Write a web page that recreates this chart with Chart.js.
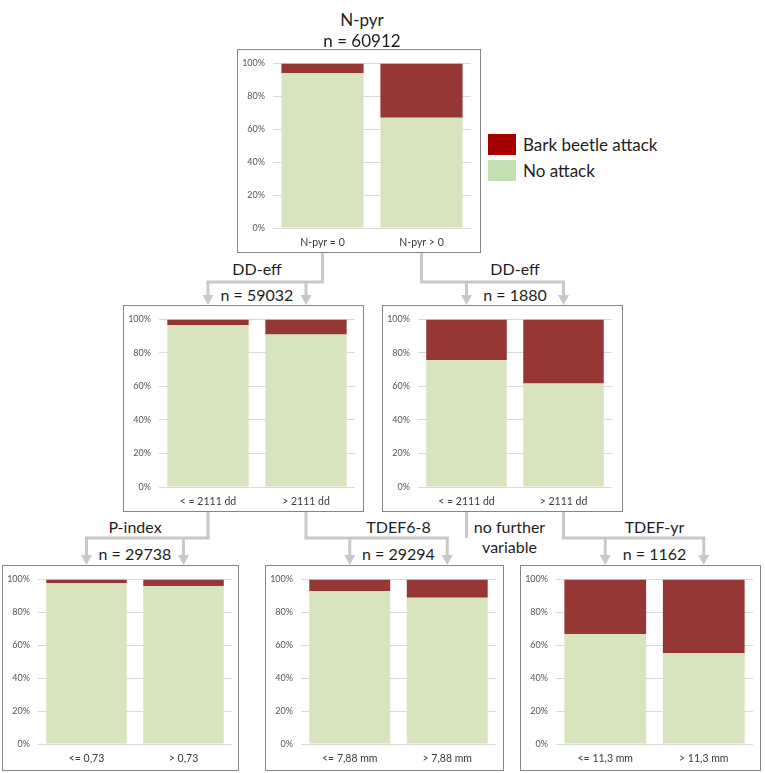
<!DOCTYPE html>
<html>
<head>
<meta charset="utf-8">
<script src="https://cdn.jsdelivr.net/npm/chart.js@4.4.1/dist/chart.umd.min.js"></script>
<style>
  body { margin: 0; background: #fff; font-family: Lato, "Liberation Sans", sans-serif; }
  #page { position: relative; width: 765px; height: 773px; overflow: hidden; background: #fff; }
  #wires { position: absolute; left: 0; top: 0; }
  .box { position: absolute; border: 1px solid #858585; background: #fff; box-sizing: border-box; }
  .box canvas { position: absolute; left: 0; top: 0; }
  .lbl { position: absolute; font-size: 16px; color: #1e1e1e; transform: translate(-50%, -50%);
         white-space: nowrap; text-align: center; line-height: 20px; }
  #legend { position: absolute; left: 488px; top: 131px; font-size: 17px; color: #1e1e1e; }
  #legend div { height: 26px; display: flex; align-items: center; }
  #legend span.sw { display: inline-block; width: 28px; height: 21px; margin-right: 7px; }
</style>
</head>
<body>
<div id="page">
  <svg id="wires" width="765" height="773"></svg>
</div>
<script>
// split data, one node per chart (values in %)
const topCats = ['N-pyr = 0', 'N-pyr > 0'];
const topNoAttack = [94, 67];
const topAttack = [6, 33];

const midLeftCats = ['< = 2111 dd', '> 2111 dd'];
const midLeftNoAttack = [96.6, 91];
const midLeftAttack = [3.4, 9];

const midRightCats = ['< = 2111 dd', '> 2111 dd'];
const midRightNoAttack = [75.8, 61.7];
const midRightAttack = [24.2, 38.3];

const botLeftCats = ['<= 0,73', '> 0,73'];
const botLeftNoAttack = [97.6, 95.8];
const botLeftAttack = [2.4, 4.2];

const botMidCats = ['<= 7,88 mm', '> 7,88 mm'];
const botMidNoAttack = [92.9, 88.9];
const botMidAttack = [7.1, 11.1];

const botRightCats = ['<= 11,3 mm', '> 11,3 mm'];
const botRightNoAttack = [66.9, 55.2];
const botRightAttack = [33.1, 44.8];

const yTicks = [0, 20, 40, 60, 80, 100];

// tree texts
const rootVariable = 'N-pyr';
const rootN = 'n = 60912';
const splitVariables = ['DD-eff', 'DD-eff', 'P-index', 'TDEF6-8', 'TDEF-yr'];
const splitN = ['n = 59032', 'n = 1880', 'n = 29738', 'n = 29294', 'n = 1162'];
const leafNote = ['no further', 'variable'];
const legendLabels = ['Bark beetle attack', 'No attack'];

const attackColor = '#953735';
const noAttackColor = '#d7e4bd';

const page = document.getElementById('page');

// where each little chart sits on the page
const nodes = [
  { id: 'top',  cats: topCats,       no: topNoAttack,       yes: topAttack,       x: 237, y: 49,  w: 244, h: 204, padTop: 10, xh: 24, padRight: 9 },
  { id: 'midL', cats: midLeftCats,   no: midLeftNoAttack,   yes: midLeftAttack,   x: 123, y: 305, w: 241, h: 207, padTop: 12, xh: 24, padRight: 8 },
  { id: 'midR', cats: midRightCats,  no: midRightNoAttack,  yes: midRightAttack,  x: 382, y: 305, w: 241, h: 207, padTop: 12, xh: 24, padRight: 10 },
  { id: 'botL', cats: botLeftCats,   no: botLeftNoAttack,   yes: botLeftAttack,   x: 2,   y: 565, w: 237, h: 206, padTop: 10, xh: 26, padRight: 6 },
  { id: 'botM', cats: botMidCats,    no: botMidNoAttack,    yes: botMidAttack,    x: 265, y: 565, w: 239, h: 206, padTop: 10, xh: 26, padRight: 7 },
  { id: 'botR', cats: botRightCats,  no: botRightNoAttack,  yes: botRightAttack,  x: 520, y: 565, w: 241, h: 206, padTop: 10, xh: 26, padRight: 7 }
];

const charts = {};

nodes.forEach(function (n) {
  const box = document.createElement('div');
  box.className = 'box';
  box.style.left = n.x + 'px';
  box.style.top = n.y + 'px';
  box.style.width = n.w + 'px';
  box.style.height = n.h + 'px';
  const cv = document.createElement('canvas');
  cv.width = n.w - 2;
  cv.height = n.h - 2;
  box.appendChild(cv);
  page.appendChild(box);

  charts[n.id] = new Chart(cv.getContext('2d'), {
    type: 'bar',
    data: {
      labels: n.cats,
      datasets: [
        { label: legendLabels[1], data: n.no, backgroundColor: noAttackColor, barPercentage: 0.83, categoryPercentage: 1 },
        { label: legendLabels[0], data: n.yes, backgroundColor: attackColor, barPercentage: 0.83, categoryPercentage: 1 }
      ]
    },
    options: {
      responsive: false,
      animation: false,
      devicePixelRatio: 1,
      layout: { padding: { top: n.padTop, right: n.padRight, left: 0, bottom: 0 } },
      plugins: { legend: { display: false }, tooltip: { enabled: false } },
      scales: {
        x: {
          stacked: true,
          grid: { display: false, drawTicks: false },
          border: { display: false },
          ticks: { color: '#3a3a3a', padding: 8, font: { family: 'Lato', size: 10.5 } },
          afterFit: function (s) { s.height = n.xh; }
        },
        y: {
          stacked: true,
          min: 0,
          max: 100,
          afterBuildTicks: function (s) { s.ticks = yTicks.map(function (v) { return { value: v }; }); },
          grid: { color: '#d9d9d9', drawTicks: false, lineWidth: 1 },
          border: { display: false },
          ticks: {
            color: '#555555', padding: 8,
            font: { family: 'Lato', size: 9 },
            callback: function (v) { return v + '%'; }
          },
          afterFit: function (s) { s.width = 35; }
        }
      }
    }
  });
});

// helpers for the tree drawing
function label(text, cx, cy, size) {
  const d = document.createElement('div');
  d.className = 'lbl';
  d.textContent = text;
  d.style.left = cx + 'px';
  d.style.top = cy + 'px';
  if (size) d.style.fontSize = size + 'px';
  page.appendChild(d);
}

const svg = document.getElementById('wires');
const wireColor = '#c8c8c8';
function line(x1, y1, x2, y2) {
  const l = document.createElementNS('http://www.w3.org/2000/svg', 'line');
  l.setAttribute('x1', x1); l.setAttribute('y1', y1);
  l.setAttribute('x2', x2); l.setAttribute('y2', y2);
  l.setAttribute('stroke', wireColor); l.setAttribute('stroke-width', 3);
  svg.appendChild(l);
}
function arrow(x, y1, y2) {
  line(x, y1, x, y2 - 8);
  const p = document.createElementNS('http://www.w3.org/2000/svg', 'polygon');
  p.setAttribute('points', (x - 5.5) + ',' + (y2 - 10) + ' ' + (x + 5.5) + ',' + (y2 - 10) + ' ' + x + ',' + y2);
  p.setAttribute('fill', wireColor);
  svg.appendChild(p);
}

function node(id) { return nodes.find(function (n) { return n.id === id; }); }
function barX(id, i) {
  const n = node(id);
  return n.x + 1 + charts[id].getDatasetMeta(0).data[i].x;
}

// parent bar -> child chart
function split(parentId, barIdx, childId, varText, nText, gapY, nameOff, nOff) {
  const p = node(parentId), c = node(childId);
  const sx = barX(parentId, barIdx);
  const a0 = barX(childId, 0), a1 = barX(childId, 1);
  const top = p.y + p.h;
  line(sx, top, sx, gapY);
  line(Math.min(sx, a0) - 1.5, gapY, Math.max(sx, a1) + 1.5, gapY);
  arrow(a0, gapY, c.y);
  arrow(a1, gapY, c.y);
  const cx = (a0 + a1) / 2;
  label(varText, cx, gapY - nameOff);
  label(nText, cx, gapY + nOff);
}

const rootNode = node('top');
label(rootVariable, rootNode.x + rootNode.w / 2 + 3, 20, 17);
label(rootN, rootNode.x + rootNode.w / 2 + 3, 41, 17);

split('top', 0, 'midL', splitVariables[0], splitN[0], 282, 13, 13);
split('top', 1, 'midR', splitVariables[1], splitN[1], 282, 13, 13);
split('midL', 0, 'botL', splitVariables[2], splitN[2], 538, 11, 16);
split('midL', 1, 'botM', splitVariables[3], splitN[3], 538, 11, 16);
split('midR', 1, 'botR', splitVariables[4], splitN[4], 538, 11, 16);

// left bar of the right middle node is a leaf
const leafX = barX('midR', 0);
line(leafX, node('midR').y + node('midR').h, leafX, 538);
label(leafNote[0], leafX + 43, 527);
label(leafNote[1], leafX + 43, 547);

// legend
const lg = document.createElement('div');
lg.id = 'legend';
[['#a50000', legendLabels[0]], ['#c4dfb2', legendLabels[1]]].forEach(function (e) {
  const row = document.createElement('div');
  const sw = document.createElement('span');
  sw.className = 'sw';
  sw.style.background = e[0];
  row.appendChild(sw);
  row.appendChild(document.createTextNode(e[1]));
  lg.appendChild(row);
});
page.appendChild(lg);
</script>
</body>
</html>
